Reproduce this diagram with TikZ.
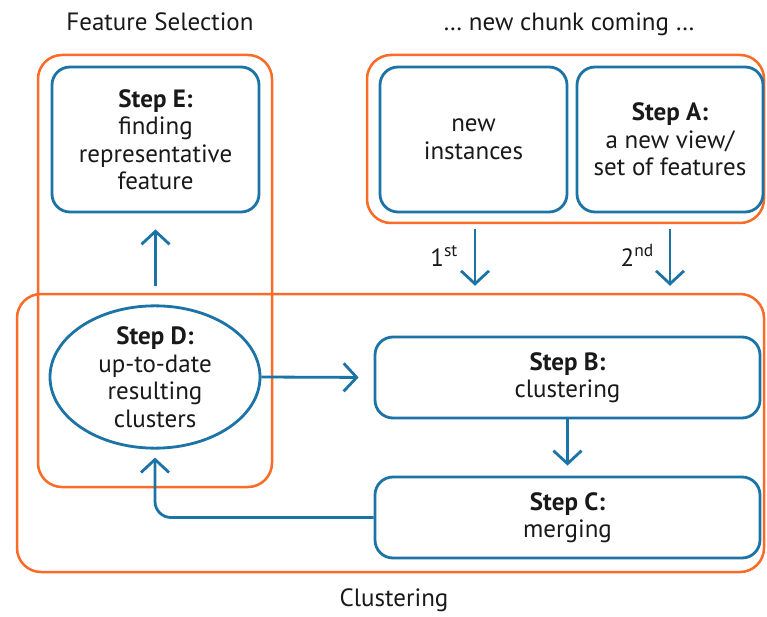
\documentclass[tikz,border=0pt]{standalone}
\usepackage{fontspec}
\setmainfont{PT Sans}
\usetikzlibrary{arrows.meta,shapes.geometric}
\definecolor{bblue}{HTML}{1B73A6}
\definecolor{oorange}{HTML}{FA6B28}
\tikzset{
  txt/.style={font=\fontsize{25}{27.5}\selectfont, align=center, text=black!90},
  bluebox/.style={txt, draw=bblue, line width=2.8pt, rounded corners=18pt, inner sep=0pt},
  orangebox/.style={draw=oorange, line width=2.5pt, rounded corners=24pt, inner sep=0pt},
  arr/.style={draw=bblue, line width=2.8pt, -{Straight Barb[length=13pt,width=28pt,line width=2.8pt]}},
  lbl/.style={txt, inner sep=0pt}
}
\begin{document}
\begin{tikzpicture}[x=1pt,y=-1pt]
\useasboundingbox[fill=white] (0,0) rectangle (767,617);
% orange groups
\node[orangebox, minimum width=234pt, minimum height=432pt] (FS) at (155,271) {};
\node[orangebox, minimum width=397pt, minimum height=168pt] (TR) at (565.5,139) {};
\node[orangebox, minimum width=747pt, minimum height=278pt] (CL) at (390.5,433) {};
% titles
\node[lbl] (tFS) at (160,22) {Feature Selection};
\node[lbl] (tTR) at (569,24) {\dots{} new chunk coming \dots};
\node[lbl] (tCL) at (394,600) {Clustering};
% blue boxes
\node[bluebox, minimum width=207pt, minimum height=145pt] (E) at (155.5,139.5) {\textbf{Step E:}\\finding\\representative\\feature};
\node[bluebox, minimum width=187pt, minimum height=145pt] (NI) at (473.5,139.5) {new\\instances};
\node[bluebox, minimum width=186pt, minimum height=145pt] (A) at (670,139.5) {\textbf{Step A:}\\a new view/\\set of features};
\node[txt, ellipse, draw=bblue, line width=2.8pt, inner sep=0pt, minimum width=210pt, minimum height=140pt] (D) at (155,377) {\textbf{Step D:}\\up-to-date\\resulting\\clusters};
\node[bluebox, minimum width=385pt, minimum height=81pt] (B) at (567.5,377.5) {\textbf{Step B:}\\clustering};
\node[bluebox, minimum width=385pt, minimum height=81pt] (C) at (567.5,517.5) {\textbf{Step C:}\\merging};
% connectors
\draw[arr, shorten <=7pt, shorten >=16pt] (E.south |- CL.north) -- (E.south);
\draw[arr, shorten <=16pt, shorten >=7pt] ([xshift=1.5pt]NI.south) -- ([xshift=1.5pt]NI.south |- CL.north);
\draw[arr, shorten <=16pt, shorten >=7pt] (A.south) -- (A.south |- CL.north);
\draw[arr, shorten >=15pt] (D.east) -- (B.west);
\draw[arr, shorten >=10pt] (B.south) -- (C.north);
\draw[arr, rounded corners=16pt, shorten >=8pt] (C.west) -| (D.south);
% labels
\node[lbl, anchor=base east] (l1) at (458,266) {1\textsuperscript{st}};
\node[lbl, anchor=base east] (l2) at (654,266) {2\textsuperscript{nd}};
\end{tikzpicture}
\end{document}
